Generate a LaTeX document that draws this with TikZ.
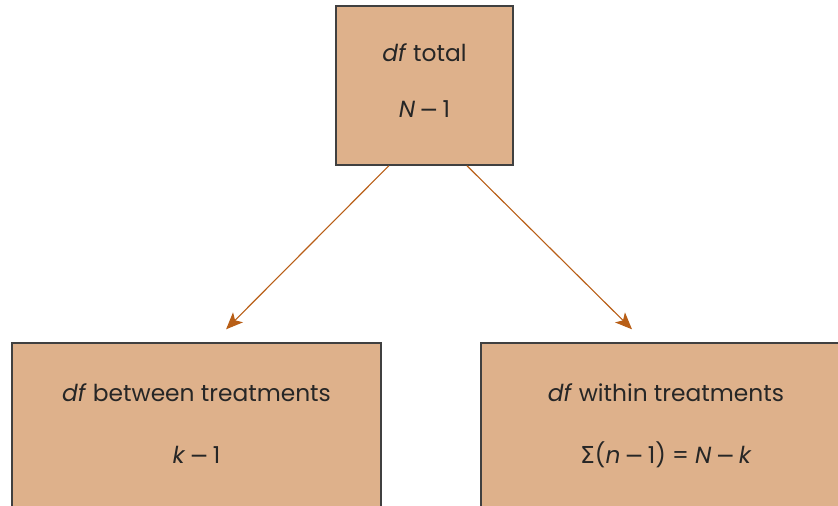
\documentclass[tikz,border=0pt]{standalone}
\usepackage{fontspec}
\setmainfont{Poppins}
\newfontfamily\symfont{DejaVu Sans}
\usepackage{tikz}
\usetikzlibrary{arrows.meta,calc}

\definecolor{boxfill}{HTML}{DEB18B}
\definecolor{boxline}{HTML}{404040}
\definecolor{arrowcol}{HTML}{B85E16}

\tikzset{
  dfbox/.style={draw=boxline, line width=1pt, fill=boxfill, inner sep=0pt},
  dftext/.style={anchor=base, inner sep=0pt, font=\fontsize{16.6}{20}\selectfont, text=black!85},
  dfarrow/.style={draw=arrowcol, line width=0.8pt,
    -{Stealth[length=12pt,width=10pt,inset=3pt]}}
}

\begin{document}
\begin{tikzpicture}
	\useasboundingbox (0,0) rectangle (20.95,-12.65);
	\clip (0,0) rectangle (20.95,-12.65);

		% top box
		\node[dfbox, minimum width=4.425cm, minimum height=3.975cm] (total) at (10.6125,-2.1375) {};
		\node[dftext] (totalname) at ($(total.north)+(0,-1.4)$) {\textit{df} total};
		\node[dftext] (totalval) at ($(total.north)+(0,-2.8)$) {\textit{N}\,{\symfont −}\,1};

		% bottom boxes
		\node[dfbox, minimum width=9.225cm, minimum height=4.3cm] (between) at (4.9125,-10.725) {};
		\node[dftext] (betweenname) at ($(between.north)+(0,-1.475)$) {\textit{df} between treatments};
		\node[dftext] (betweenval) at ($(between.north)+(0,-3.025)$) {\textit{k}\,{\symfont −}\,1};

		\node[dfbox, minimum width=9.25cm, minimum height=4.3cm] (within) at (16.65,-10.725) {};
		\node[dftext] (withinname) at ($(within.north)+(0,-1.475)$) {\textit{df} within treatments};
		\node[dftext] (withinval) at ($(within.north)+(0,-3.025)$)
			{{\symfont Σ}(\textit{n}\,{\symfont −}\,1) = \textit{N}\,{\symfont −}\,\textit{k}};

		% arrow ends
		\coordinate (betweentip) at ($(between.north)+(0.74,0.325)$);
		\coordinate (withintip) at ($(within.north)+(-0.85,0.325)$);

		\draw[dfarrow] ($(total.south)+(-0.89,0)$) -- (betweentip);
		\draw[dfarrow] ($(total.south)+(1.06,0)$) -- (withintip);

	\end{tikzpicture}
\end{document}
